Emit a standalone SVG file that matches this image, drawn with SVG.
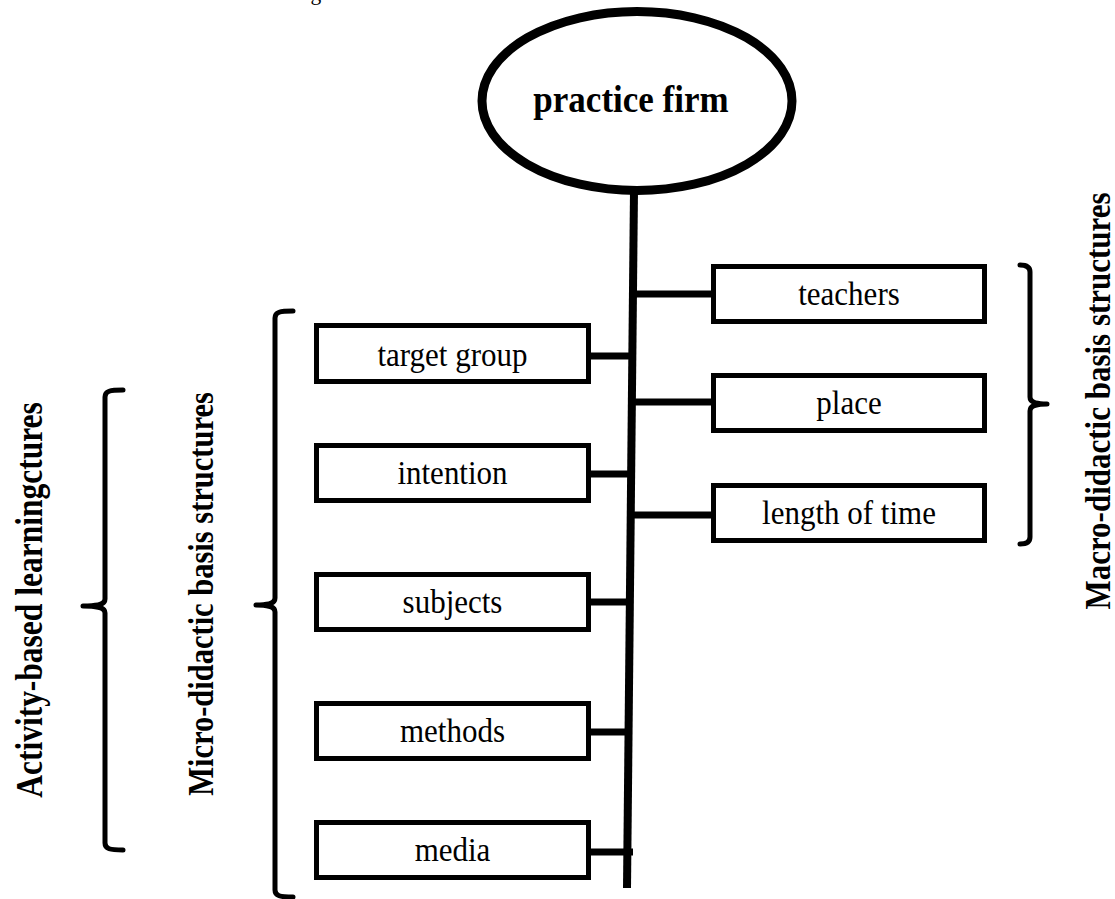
<svg xmlns="http://www.w3.org/2000/svg" width="1115" height="899" viewBox="0 0 1115 899">
<style>
.box{fill:#fff;stroke:#000;stroke-width:5}
.lbl{font-family:"Liberation Serif","Times New Roman",serif;font-size:31px;fill:#000;text-anchor:middle}
.vlbl{font-family:"Liberation Serif","Times New Roman",serif;font-weight:bold;font-size:31px;fill:#000;text-anchor:middle}
.conn{stroke:#000;stroke-width:7;fill:none}
.brace{stroke:#000;stroke-width:5;fill:none;stroke-linecap:round;stroke-linejoin:round}
</style>
<rect width="1115" height="899" fill="#fff"/>
<text x="485" y="-0.5" style="font-family:'Liberation Serif','Times New Roman',serif;font-size:21.5px;text-anchor:end">structures as the following illustration shows:</text>
<g id="connectors">
<line class="conn" x1="634" y1="190" x2="627" y2="888" style="stroke-width:8"/>
<line class="conn" x1="590" y1="356" x2="631" y2="356"/>
<line class="conn" x1="590" y1="474" x2="630" y2="474"/>
<line class="conn" x1="590" y1="602" x2="630" y2="602"/>
<line class="conn" x1="590" y1="732" x2="628" y2="732"/>
<line class="conn" x1="590" y1="852" x2="633" y2="852"/>
<line class="conn" x1="635" y1="294" x2="712" y2="294"/>
<line class="conn" x1="634" y1="402" x2="712" y2="402"/>
<line class="conn" x1="633" y1="515" x2="712" y2="515"/>
</g>
<g id="practice-firm">
<ellipse cx="637" cy="101" rx="155" ry="89.5" fill="#fff" stroke="#000" stroke-width="9"/>
<text transform="translate(631,112) scale(1,1.1)" style="font-family:'Liberation Serif','Times New Roman',serif;font-weight:bold;font-size:35px;text-anchor:middle">practice firm</text>
</g>
<g id="target-group"><rect class="box" x="316.5" y="325.5" width="272" height="56"/><text class="lbl" transform="translate(452.5,366) scale(1,1.12)">target group</text></g>
<g id="intention"><rect class="box" x="316.5" y="445.5" width="272" height="55"/><text class="lbl" transform="translate(452.5,484) scale(1,1.12)">intention</text></g>
<g id="subjects"><rect class="box" x="316.5" y="574.5" width="272" height="55"/><text class="lbl" transform="translate(452.5,613) scale(1,1.12)">subjects</text></g>
<g id="methods"><rect class="box" x="316.5" y="703.5" width="272" height="55"/><text class="lbl" transform="translate(452.5,742) scale(1,1.12)">methods</text></g>
<g id="media"><rect class="box" x="316.5" y="822.5" width="272" height="55"/><text class="lbl" transform="translate(452.5,861) scale(1,1.12)">media</text></g>
<g id="teachers"><rect class="box" x="713.5" y="266.5" width="271" height="55"/><text class="lbl" transform="translate(849,305) scale(1,1.12)">teachers</text></g>
<g id="place"><rect class="box" x="713.5" y="375.5" width="271" height="55"/><text class="lbl" transform="translate(849,414) scale(1,1.12)">place</text></g>
<g id="length-of-time"><rect class="box" x="713.5" y="485.5" width="271" height="55"/><text class="lbl" transform="translate(849,524) scale(1,1.12)">length of time</text></g>
<g id="micro-brace">
<path class="brace" d="M293 311 C280 311 275 312 275 318 L275 598 C275 603 270 605 256 605 C270 605 275 607 275 612 L275 890 C275 896 280 897 293 897"/>
<text class="vlbl" transform="translate(213,594) rotate(-90) scale(1,1.18)" style="font-size:30.5px">Micro-didactic basis structures</text>
</g>
<g id="activity-brace">
<path class="brace" d="M123 390 C110 390 105 391 105 397 L105 599 C105 604 100 606 83 606 C100 606 105 608 105 613 L105 843 C105 849 110 850 123 850"/>
<text class="vlbl" transform="translate(42,600) rotate(-90) scale(1,1.18)" style="font-size:31.5px">Activity-based learningctures</text>
</g>
<g id="macro-brace">
<path class="brace" d="M1020 265 C1025 265 1030 266 1030 272 L1030 397 C1030 402 1035 404 1047 404 C1035 404 1030 406 1030 411 L1030 537 C1030 543 1025 544 1020 544"/>
<text class="vlbl" transform="translate(1110,401) rotate(-90) scale(1,1.15)">Macro-didactic basis structures</text>
</g>
</svg>
